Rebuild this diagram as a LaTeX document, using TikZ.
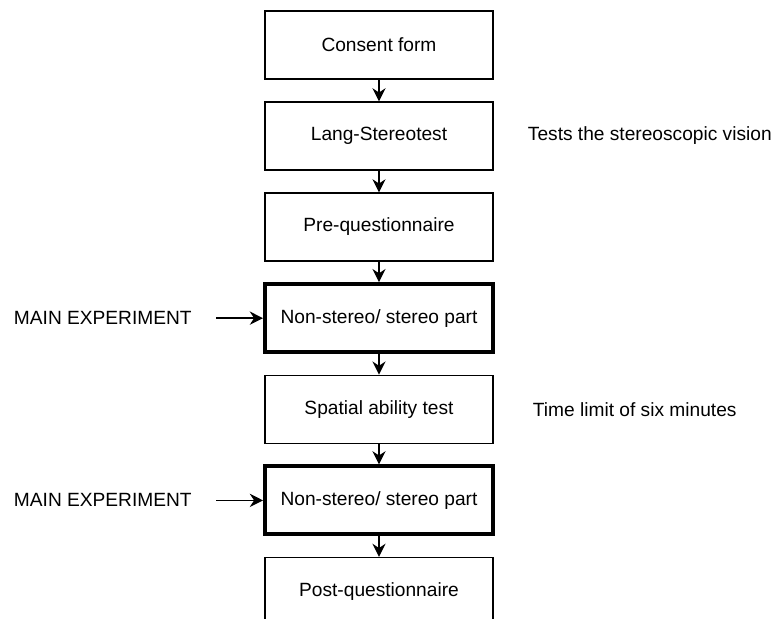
\documentclass[tikz,border=0pt]{standalone}
\usepackage{fontspec}
\setmainfont{Liberation Sans}
\usepackage{tikz}
\usetikzlibrary{arrows.meta,positioning}

\begin{document}
\begin{tikzpicture}[x=0.02cm, y=-0.02cm,
  stage/.style={rectangle, draw, line width=0.7pt, fill=white,
                minimum width=4.56cm, minimum height=1.36cm,
                inner sep=0pt, font=\fontsize{10.9}{13}\selectfont},
  mainstage/.style={stage, line width=2.3pt},
  note/.style={inner sep=0pt, font=\fontsize{10.9}{13}\selectfont},
  arr/.style={-{Stealth[length=7.5pt,width=7.5pt]}, line width=0.8pt},
]
\useasboundingbox (0,0) rectangle (779,619);
\clip (0,0) rectangle (779,619);

\node[stage] (consent) at (379,45) {Consent form};
\node[stage, below=0.436cm of consent] (lang)   {Lang-Stereotest};
\node[stage, below=0.436cm of lang]    (pre)    {Pre-questionnaire};
\node[mainstage, below=0.41cm of pre] (main1)  {Non-stereo/ stereo part};
\node[stage, below=0.41cm of main1]   (spatial){Spatial ability test};
\node[mainstage, below=0.41cm of spatial] (main2) {Non-stereo/ stereo part};
\node[stage, below=0.41cm of main2]   (post)   {Post-questionnaire};

% side notes
\node[note, anchor=west, right=0.68cm of lang]    (stereo) {Tests the stereoscopic vision};
\node[note, anchor=west, right=0.78cm of spatial] (limit)  {Time limit of six minutes};
\node[note, left=1.42cm of main1] (exp1) {MAIN EXPERIMENT};
\node[note, left=1.42cm of main2] (exp2) {MAIN EXPERIMENT};

\draw[arr] (consent) -- (lang);
\draw[arr] (lang)    -- (pre);
\draw[arr] (pre)     -- (main1);
\draw[arr] (main1)   -- (spatial);
\draw[arr] (spatial) -- (main2);
\draw[arr] (main2)   -- (post);
\draw[arr, shorten <=0.48cm] (exp1) -- (main1);
\draw[arr, shorten <=0.48cm] (exp2) -- (main2);
\end{tikzpicture}
\end{document}
